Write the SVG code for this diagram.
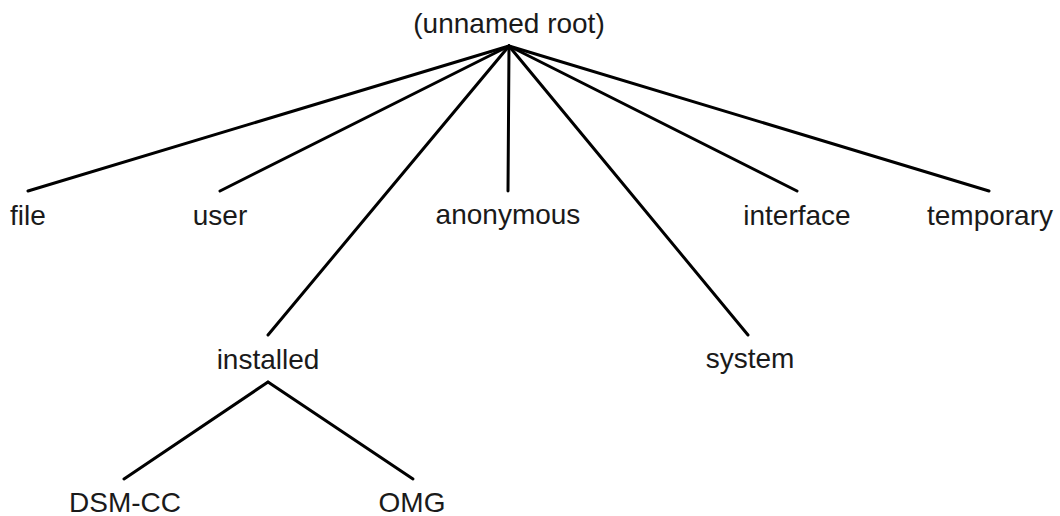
<svg xmlns="http://www.w3.org/2000/svg" width="1060" height="516" viewBox="0 0 1060 516">
<style>
text { font-family: "Liberation Sans", Arial, sans-serif; font-size: 28px; fill: #1a1a1a; text-anchor: middle; }
.edge { stroke: #000; stroke-width: 3; stroke-linecap: round; fill: none; }
</style>
<rect width="1060" height="516" fill="#fff"/>
<g id="connectors">
<line class="edge" x1="509" y1="46" x2="28" y2="191"/>
<line class="edge" x1="509" y1="46" x2="220" y2="191"/>
<line class="edge" x1="509" y1="46" x2="508" y2="191"/>
<line class="edge" x1="509" y1="46" x2="797" y2="191"/>
<line class="edge" x1="509" y1="46" x2="989" y2="191"/>
<line class="edge" x1="509" y1="46" x2="268" y2="335"/>
<line class="edge" x1="509" y1="46" x2="748" y2="335"/>
<line class="edge" x1="268" y1="382" x2="124" y2="479"/>
<line class="edge" x1="268" y1="382" x2="413" y2="479"/>
</g>
<g id="root"><text x="509" y="33">(unnamed root)</text></g>
<g id="file"><text x="28" y="225">file</text></g>
<g id="user"><text x="220" y="225">user</text></g>
<g id="anonymous"><text x="508" y="224">anonymous</text></g>
<g id="interface"><text x="797" y="225">interface</text></g>
<g id="temporary"><text x="990" y="225">temporary</text></g>
<g id="installed"><text x="268" y="369">installed</text></g>
<g id="system"><text x="750" y="368">system</text></g>
<g id="dsm-cc"><text x="125" y="512">DSM-CC</text></g>
<g id="omg"><text x="412" y="512">OMG</text></g>
</svg>
